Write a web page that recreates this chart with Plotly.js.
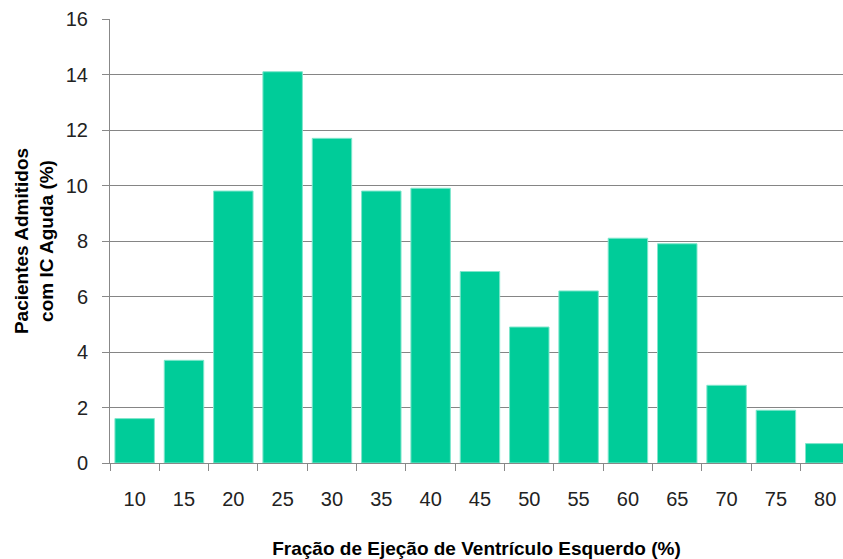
<!DOCTYPE html>
<html>
<head>
<meta charset="utf-8">
<script src="https://cdn.plot.ly/plotly-3.0.1.min.js"></script>
<style>html,body{margin:0;padding:0;background:#fff;}#chart{width:843px;height:559px;}</style>
</head>
<body>
<div id="chart"></div>
<script>
const categories = ["10","15","20","25","30","35","40","45","50","55","60","65","70","75","80"];
const values = [1.6, 3.7, 9.8, 14.1, 11.7, 9.8, 9.9, 6.9, 4.9, 6.2, 8.1, 7.9, 2.8, 1.9, 0.7];
const xTitle = "Fração de Ejeção de Ventrículo Esquerdo (%)";
const yTitle = "Pacientes Admitidos<br>com IC Aguda (%)";

const trace = {
  type: "bar",
  x: categories,
  y: values,
  marker: {color: "#00CC99", line: {color: "#7fe6cc", width: 1}},
  hoverinfo: "x+y"
};

const tickFont = {size: 20, color: "#222", family: "Liberation Sans, Arial, sans-serif"};
const titleFont = {size: 19, color: "#000", family: "Liberation Sans, Arial, sans-serif", weight: "bold"};

const layout = {
  width: 843, height: 559,
  margin: {l: 110, r: 0, t: 19, b: 96},
  paper_bgcolor: "#fff", plot_bgcolor: "#fff",
  bargap: 0.2,
  showlegend: false,
  font: {family: "Liberation Sans, Arial, sans-serif", color: "#222"},
  xaxis: {
    type: "category",
    range: [-0.5, 14.36],
    tickson: "boundaries",
    ticks: "outside", ticklen: 7, tickcolor: "#888", tickwidth: 1,
    showline: true, linecolor: "#888", linewidth: 1,
    showgrid: false,
    tickfont: tickFont,
    ticklabelstandoff: 18,
    title: {text: xTitle, font: titleFont, standoff: 34}
  },
  yaxis: {
    range: [0, 16],
    dtick: 2,
    ticks: "outside", ticklen: 7, tickcolor: "#888", tickwidth: 1,
    showline: true, linecolor: "#888", linewidth: 1,
    showgrid: true, gridcolor: "#858585", gridwidth: 1,
    zeroline: false,
    tickfont: tickFont,
    ticklabelstandoff: 10,
    title: {text: yTitle, font: titleFont, standoff: 7}
  }
};

Plotly.newPlot("chart", [trace], layout, {displayModeBar: false, staticPlot: true});
</script>
</body>
</html>
